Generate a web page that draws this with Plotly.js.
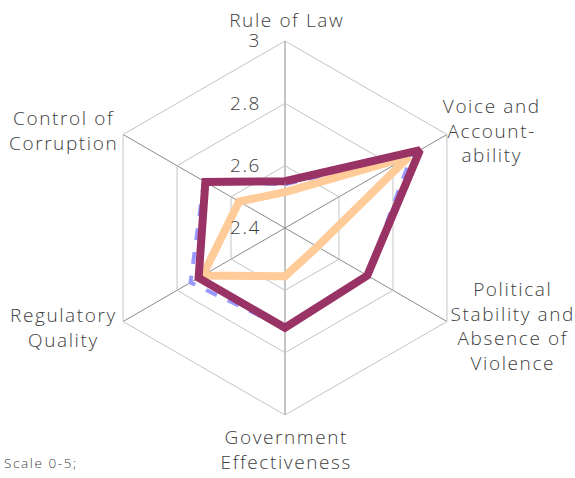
<!DOCTYPE html>
<html>
<head>
<meta charset="utf-8">
<script src="https://cdn.plot.ly/plotly-3.0.1.min.js"></script>
<style>
html,body{margin:0;padding:0;background:#fff;}
#chart{width:575px;height:478px;}
#chart svg text{letter-spacing:1.6px;}
</style>
</head>
<body>
<div id="chart"></div>
<script>
var categories = ["Rule of Law", "Voice and Accountability", "Political Stability and Absence of Violence", "Government Effectiveness", "Regulatory Quality", "Control of Corruption"];
var categoryLabels = ["Rule of Law", "Voice and<br>Account-<br>ability", "Political<br>Stability and<br>Absence of<br>Violence", "Government<br>Effectiveness", "Regulatory<br>Quality", "Control of<br>Corruption"];
var seriesBlue = [2.54, 2.87, 2.705, 2.72, 2.75, 2.70];
var seriesOrange = [2.515, 2.86, 2.52, 2.555, 2.705, 2.57];
var seriesMaroon = [2.55, 2.90, 2.705, 2.72, 2.72, 2.695];
var radialTicks = [2.4, 2.6, 2.8, 3];
var radialTickText = ["2.4", "2.6", "2.8", "3"];
var noteText = "Scale 0-5;";

function closed(a){ return a.concat([a[0]]); }

var traces = [
  {type:'scatterpolar', mode:'lines', name:'Series 3', r:closed(seriesBlue), theta:closed(categories),
   line:{color:'#9999FF', width:4, dash:'dash'}, hoverinfo:'r+theta'},
  {type:'scatterpolar', mode:'lines', name:'Series 2', r:closed(seriesOrange), theta:closed(categories),
   line:{color:'#FFCC99', width:8}, hoverinfo:'r+theta'},
  {type:'scatterpolar', mode:'lines', name:'Series 1', r:closed(seriesMaroon), theta:closed(categories),
   line:{color:'#993366', width:8}, hoverinfo:'r+theta'}
];

var fam = '"Open Sans", Lato, sans-serif';
var font = {family:fam, size:19, color:'#404040', weight:300};

// label placement (paper fractions), one per category
var labelX = [0.499, 0.854, 0.892, 0.499, 0.111, 0.110];
var labelY = [0.958, 0.726, 0.318, 0.0586, 0.314, 0.726];

var annotations = categoryLabels.map(function(t, i){
  return {text:t, xref:'paper', yref:'paper', x:labelX[i], y:labelY[i],
          xanchor:'center', yanchor:'middle', align:'center', showarrow:false, font:font};
});
annotations.push({text:noteText, xref:'paper', yref:'paper', x:0.018, y:1-463/478, xanchor:'left', yanchor:'middle',
     showarrow:false, font:{family:fam, size:13.5, color:'#404040', weight:300}});

var layout = {
  width:575, height:478,
  margin:{l:0, r:0, t:0, b:0},
  paper_bgcolor:'#fff',
  showlegend:false,
  font:font,
  polar:{
    domain:{x:[0.1704, 0.8209], y:[0.1318, 0.9142]},
    bgcolor:'rgba(0,0,0,0)',
    gridshape:'linear',
    radialaxis:{
      range:[2.4, 3], tickvals:radialTicks,
      ticktext:radialTickText.map(function(t){ return t + '\u2003'; }),
      angle:90, side:'counterclockwise', tickangle:90,
      showline:false, ticks:'', gridcolor:'#c4c4c4', gridwidth:1,
      tickfont:font
    },
    angularaxis:{
      type:'category', categoryarray:categories,
      direction:'clockwise', rotation:90,
      showline:true, linecolor:'#c4c4c4', linewidth:1,
      gridcolor:'#8a8a8a', gridwidth:1, ticks:'', showticklabels:false
    }
  },
  annotations:annotations
};

Plotly.newPlot('chart', traces, layout, {displayModeBar:false, staticPlot:true});
</script>
</body>
</html>
